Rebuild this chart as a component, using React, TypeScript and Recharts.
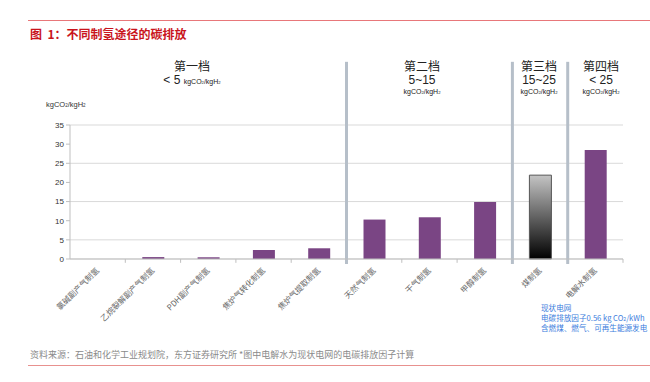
import React from 'react';
import { BarChart, Bar, XAxis, YAxis, CartesianGrid, ReferenceLine, Cell } from 'recharts';

const categories = [
  '氯碱副产气制氢',
  '乙烷裂解副产气制氢',
  'PDH副产气制氢',
  '焦炉气转化制氢',
  '焦炉气提取制氢',
  '天然气制氢',
  '干气制氢',
  '甲醇制氢',
  '煤制氢',
  '电解水制氢',
];
const emissions = [0, 0.5, 0.45, 2.35, 2.8, 10.3, 10.9, 14.9, 21.9, 28.5];
const yTicks = [0, 5, 10, 15, 20, 25, 30, 35];

const tierNames = ['第一档', '第二档', '第三档', '第四档'];
const tierRanges = ['< 5', '5~15', '15~25', '< 25'];
// index of the first category in tiers 2..4
const tierBreaks = [5, 8, 9];

const noteLines = ['现状电网', '电碳排放因子0.56 kg CO', '含燃煤、燃气、可再生能源发电'];

const data = categories.map((name, i) => ({ name, value: emissions[i] }));

const CN = '"Noto Sans CJK SC", "Liberation Sans", sans-serif';
const LATIN = '"Liberation Sans", Arial, sans-serif';
const PURPLE = '#7a4584';
const SEP = '#b6bfc9';

const Unit = ({ size }: { size: number }) => (
  <span style={{ fontSize: size, fontFamily: LATIN }}>
    kgCO<span style={{ fontSize: size * 0.6 }}>2</span>/kgH<span style={{ fontSize: size * 0.6 }}>2</span>
  </span>
);

const CategoryTick = (props: any) => {
  const { x, y, payload } = props;
  const ax = x + 2;
  const ay = y + 12;
  return (
    <text
      x={ax}
      y={ay}
      textAnchor="end"
      fontSize={8}
      fill="#666"
      fontFamily={CN}
      transform={`rotate(-45, ${ax}, ${ay})`}
    >
      {payload.value}
    </text>
  );
};

// tier label placement (centre x, px)
const tierX = [192, 422, 539, 601];

const App = () => {
  return (
    <div style={{ position: 'absolute', left: 0, top: 0, width: 650, height: 382, background: '#fff', fontFamily: CN, overflow: 'hidden' }}>
      <div style={{ position: 'absolute', left: 28, top: 20, width: 622, height: 1, background: '#e8777a' }} />
      <div style={{ position: 'absolute', left: 30, top: 26, fontSize: 12, fontWeight: 'bold', color: '#c9141c', lineHeight: '16px', whiteSpace: 'pre' }}>
        {'图  1：不同制氢途径的碳排放'}
      </div>

      {tierNames.map((t, i) => (
        <div
          key={t}
          style={{
            position: 'absolute',
            left: tierX[i],
            top: 58,
            transform: 'translateX(-50%)',
            textAlign: 'center',
            color: '#222',
            whiteSpace: 'nowrap',
            fontSize: 12,
          }}
        >
          <div style={{ fontSize: 12, lineHeight: '15px' }}>{t}</div>
          {i === 0 ? (
            <div style={{ fontSize: 12, lineHeight: '14px', fontFamily: LATIN }}>
              {tierRanges[i]} <Unit size={7} />
            </div>
          ) : (
            <>
              <div style={{ fontSize: 12, lineHeight: '14px', fontFamily: LATIN }}>{tierRanges[i]}</div>
              <div style={{ fontSize: 7, lineHeight: '9px' }}>
                <Unit size={7} />
              </div>
            </>
          )}
        </div>
      ))}

      <div style={{ position: 'absolute', left: 46, top: 99, color: '#333', whiteSpace: 'nowrap', fontSize: 7.5, lineHeight: '10px' }}>
        <Unit size={7.5} />
      </div>

      <BarChart
        width={650}
        height={382}
        data={data}
        margin={{ top: 125, right: 27, left: 40, bottom: 23 }}
        barSize={22}
      >
        <defs>
          <linearGradient id="coalGrad" x1="0" y1="0" x2="0" y2="1">
            <stop offset="0%" stopColor="#c4c4c4" />
            <stop offset="100%" stopColor="#000" />
          </linearGradient>
        </defs>
        <CartesianGrid vertical={false} stroke="#d9d9d9" />
        <XAxis
          dataKey="name"
          interval={0}
          tick={<CategoryTick />}
          tickLine={false}
          tickSize={0}
          tickMargin={0}
          axisLine={{ stroke: '#bfbfbf' }}
          height={100}
        />
        <YAxis
          domain={[0, 35]}
          ticks={yTicks}
          width={30}
          tickSize={4}
          tick={{ fontSize: 8, fill: '#333', fontFamily: LATIN }}
          tickLine={{ stroke: '#bfbfbf' }}
          axisLine={{ stroke: '#bfbfbf' }}
        />
        {categories.slice(1).map((c) =>
          tierBreaks.includes(categories.indexOf(c)) ? null : (
            <ReferenceLine
              key={`t-${c}`}
              segment={[{ x: c, y: 0 }, { x: c, y: -1 }]}
              position="start"
              ifOverflow="visible"
              stroke="#bfbfbf"
            />
          )
        )}
        <ReferenceLine
          segment={[
            { x: categories[categories.length - 1], y: 0 },
            { x: categories[categories.length - 1], y: -1 },
          ]}
          position="end"
          ifOverflow="visible"
          stroke="#bfbfbf"
        />
        <Bar dataKey="value" fill={PURPLE} isAnimationActive={false}>
          {data.map((d) => (
            <Cell
              key={d.name}
              fill={d.name === '煤制氢' ? 'url(#coalGrad)' : PURPLE}
              stroke={d.name === '煤制氢' ? '#555' : 'none'}
              strokeWidth={d.name === '煤制氢' ? 1 : 0}
            />
          ))}
        </Bar>
        {tierBreaks.map((b) => (
          <ReferenceLine
            key={`sep-${b}`}
            segment={[{ x: categories[b], y: -1.3 }, { x: categories[b], y: 51.5 }]}
            position="start"
            ifOverflow="visible"
            stroke={SEP}
            strokeWidth={3}
          />
        ))}
      </BarChart>

      <div style={{ position: 'absolute', left: 541, top: 303, color: '#3b7ddd', fontSize: 7.6, lineHeight: '9.5px', whiteSpace: 'nowrap' }}>
        <div>{noteLines[0]}</div>
        <div>
          {noteLines[1]}
          <span style={{ fontSize: 5 }}>2</span>/kWh
        </div>
        <div>{noteLines[2]}</div>
      </div>

      <div style={{ position: 'absolute', left: 30, top: 348, fontSize: 9, color: '#8a8a8a', whiteSpace: 'nowrap', lineHeight: '13px' }}>
        资料来源：石油和化学工业规划院，东方证券研究所 *图中电解水为现状电网的电碳排放因子计算
      </div>
      <div style={{ position: 'absolute', left: 28, top: 365, width: 622, height: 1, background: '#e8918f' }} />
    </div>
  );
};

export default App;
